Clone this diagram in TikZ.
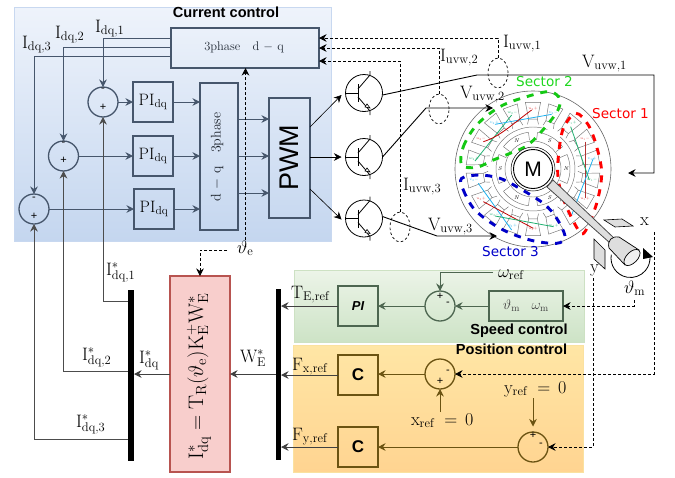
\documentclass[tikz,border=0pt]{standalone}
\usepackage{fix-cm}
\usepackage{fontspec}
\newfontfamily\hvf{Liberation Sans}
\newfontfamily\djv{DejaVu Sans}
\usetikzlibrary{arrows.meta,calc,shapes.geometric}
\definecolor{bluel}{HTML}{46566C}
\definecolor{greenl}{HTML}{4D6650}
\definecolor{brownl}{HTML}{6B5312}
\definecolor{wred}{HTML}{E04040}
\definecolor{wcy}{HTML}{20B0EE}
\definecolor{wgr}{HTML}{20B070}
\tikzset{
 box/.style={draw,rectangle,inner sep=0,outer sep=0,line width=1.4},
 sumc/.style={draw,circle,inner sep=0,outer sep=0,minimum size=30,line width=1.3},
 bar/.style={fill=black,rectangle,inner sep=0,outer sep=0,minimum width=6,minimum height=171},
 arr/.style={-{Stealth[length=7.5,width=7.5]},line width=.9},
 dtip/.style={-{Stealth[length=7.5,width=7.5]},black},
 dsh/.style={dash pattern=on 2.6pt off 2.4pt,line width=.7},
 lab/.style={anchor=base west,inner sep=0,outer sep=0,font=\fontsize{18}{20}\selectfont},
 ttl/.style={anchor=base,inner sep=0,outer sep=0,font=\hvf\bfseries\fontsize{14.6}{16}\selectfont},
 sgn/.style={inner sep=0,font=\hvf\fontsize{11}{11}\selectfont},
 sec/.style={anchor=base west,inner sep=0,font=\djv\fontsize{13.6}{15}\selectfont},
 tr/.style={draw,circle,inner sep=0,outer sep=0,minimum size=37,line width=.8},
 ell/.style={draw,ellipse,dsh,inner sep=0,outer sep=0,line width=.7},
 slot/.style={draw=black!55,line width=.45},
 wind/.style={line width=.8},
 sect/.style={line width=2.9,dash pattern=on 7pt off 7pt},
 slab/.style={inner sep=0,font=\fontsize{3.8}{4}\selectfont},
}
\begin{document}
\begin{tikzpicture}[x=1pt,y=-1pt]
\useasboundingbox (0,0) rectangle (675,477);
% panels
\node[rectangle,inner sep=0,draw={rgb,255:red,200;green,216;blue,240},minimum width=317,minimum height=234,top color={rgb,255:red,238;green,243;blue,251},bottom color={rgb,255:red,196;green,214;blue,239}] (pblue) at (172.5,124) {};
\node[rectangle,inner sep=0,draw={rgb,255:red,205;green,225;blue,195},top color={rgb,255:red,236;green,244;blue,232},bottom color={rgb,255:red,205;green,227;blue,198},minimum width=290,minimum height=72] (pgreen) at (439,306) {};
\node[rectangle,inner sep=0,draw={rgb,255:red,250;green,225;blue,160},top color={rgb,255:red,255;green,230;blue,165},bottom color={rgb,255:red,255;green,212;blue,145},minimum width=290,minimum height=127] (porange) at (438,408.5) {};
\node[ttl] (tcur) at (226,17) {Current control};
\node[ttl] (tspd) at (519,334) {Speed control};
\node[ttl] (tpos) at (511.5,354) {Position control};
% current loop
\begin{scope}[bluel]
\node[box,minimum width=148,minimum height=40] (tq) at (245,48) {};
\node[font=\fontsize{12.5}{14}\selectfont,text=bluel!50!black,inner sep=0] (tqt) at (244,47) {3phase\ \ \ d $-$ q};
\node[box,minimum width=40,minimum height=40] (pi1) at (153,102) {};
\node[box,minimum width=40,minimum height=40] (pi2) at (153,156) {};
\node[box,minimum width=40,minimum height=40] (pi3) at (154,209) {};
\node[lab,anchor=center,text=black,font=\fontsize{16.5}{18}\selectfont] (pi1t) at (153,102) {$\mathrm{PI}_{\mathrm{dq}}$};
\node[lab,anchor=center,text=black,font=\fontsize{16.5}{18}\selectfont] (pi2t) at (153,156) {$\mathrm{PI}_{\mathrm{dq}}$};
\node[lab,anchor=center,text=black,font=\fontsize{16.5}{18}\selectfont] (pi3t) at (154,209) {$\mathrm{PI}_{\mathrm{dq}}$};
\node[box,minimum width=38,minimum height=147] (dq) at (219,156.5) {};
\node[rotate=90,inner sep=0,text=bluel!40!black,font=\fontsize{14}{15}\selectfont] (dqt) at (217,157) {d $-$ q\ \ \ 3phase};
\node[box,minimum width=41,minimum height=120] (pwm) at (289.5,158) {};
\node[rotate=90,inner sep=0,text=black,font=\hvf\fontsize{27}{30}\selectfont] (pwmt) at (289,158) {PWM};
\node[sumc] (s1) at (103,102) {};
\node[sumc] (s2) at (63.5,156) {};
\node[sumc] (s3) at (34,209) {};
\draw[arr] (s1.east) -- (pi1.west);
\draw[arr] (s2.east) -- (pi2.west);
\draw[arr] (s3.east) -- (pi3.west);
\draw[arr] (pi1.east) -- (dq.west|-pi1);
\draw[arr] (pi2.east) -- (dq.west|-pi2);
\draw[arr] ([yshift=0]pi3.east) -- (dq.west|-pi3);
\draw[arr] (dq.east|-0,119) -- (pwm.west|-0,119);
\draw[arr] (dq.east|-0,156) -- (pwm.west|-0,156);
\draw[arr] (dq.east|-0,193) -- (pwm.west|-0,193);
\draw[arr] (tq.west|-0,38) -| (s1.north);
\draw[arr] (tq.west|-0,47) -| (s2.north);
\draw[arr] (tq.west|-0,56) -| (s3.north);
\end{scope}
\node[sgn] (m1) at (103,90) {-};\node[sgn] (p1) at (103,107) {+};
\node[sgn] (m2) at (63.5,144) {-};\node[sgn] (p2) at (63.5,160) {+};
\node[sgn] (m3) at (34,199) {-};\node[sgn] (p3) at (34,216) {+};
% star bus
\node[bar] (barl) at (131,375.5) {};
\node[bar,minimum width=5] (barr) at (278.5,374.5) {};
\node[box,draw={rgb,255:red,184;green,84;blue,80},fill={rgb,255:red,248;green,206;blue,204},line width=1.6,minimum width=60,minimum height=196] (red) at (200,374) {};
\node[rotate=90,inner sep=0,font=\fontsize{21}{23}\selectfont] (redt) at (199,376.5) {$\mathrm{I}^{*}_{\mathrm{dq}} = \mathrm{T}_{\mathrm{R}}(\vartheta_{\mathrm{e}})\mathrm{K}^{+}_{\mathrm{E}}\mathrm{W}^{*}_{\mathrm{E}}$};
\draw[arr,black!75] (red.west) -- (barl.east|-red);
\draw[arr,black!75] (barr.west|-red) -- (red.east);
\draw[arr,black!70,line width=.8] (barl.west|-0,301) -| (s1.south);
\draw[arr,black!70,line width=.8] (barl.west|-0,371) -| (s2.south);
\draw[arr,black!70,line width=.8] (barl.west|-0,439) -| (s3.south);
% labels current
\node[lab] (l1) at (95,32) {$\mathrm{I}_{\mathrm{dq,1}}$};
\node[lab] (l2) at (55,38) {$\mathrm{I}_{\mathrm{dq,2}}$};
\node[lab] (l3) at (22,48) {$\mathrm{I}_{\mathrm{dq,3}}$};
\node[lab] (r1) at (106,275) {$\mathrm{I}^{*}_{\mathrm{dq,1}}$};
\node[lab] (r2) at (82,360) {$\mathrm{I}^{*}_{\mathrm{dq,2}}$};
\node[lab] (r3) at (76,427) {$\mathrm{I}^{*}_{\mathrm{dq,3}}$};
\node[lab] (r0) at (139,363) {$\mathrm{I}^{*}_{\mathrm{dq}}$};
\node[lab] (we) at (240,362) {$\mathrm{W}^{*}_{\mathrm{E}}$};
\node[lab] (the) at (237,253) {$\vartheta_{\mathrm{e}}$};
\coordinate (thx) at (245.5,240);
\draw[dsh,dtip] (thx) -- (thx|-tq.south);
\draw[dsh,dtip] (227,250) -| (red.north);
% speed
\begin{scope}[greenl]
\node[box,minimum width=40,minimum height=40] (pis) at (358,306) {};
\node[inner sep=0,text=black,font=\hvf\bfseries\itshape\fontsize{13}{15}\selectfont] (pist) at (358,306) {PI};
\node[box,minimum width=74,minimum height=30] (tm) at (526,306) {};
\node[inner sep=0,text=black!75,font=\fontsize{14}{15}\selectfont] (tmt) at (526,306) {$\vartheta_{\mathrm{m}}\;\;\;\omega_{\mathrm{m}}$};
\node[sumc] (ss) at (440,306) {};
\draw[arr] (tm.west) -- (ss.east);
\draw[arr] (ss.west) -- (pis.east);
\coordinate (wr) at (493,272);
\draw[arr] (wr) -| (ss.north);
\end{scope}
\node[sgn] (sp) at (440,296) {+};\node[sgn] (sm) at (448,304) {-};
\node[lab] (wref) at (498,277) {$\omega_{\mathrm{ref}}$};
% position
\begin{scope}[brownl]
\node[box,minimum width=40,minimum height=40] (c1) at (358,375) {};
\node[box,minimum width=40,minimum height=40] (c2) at (358,447) {};
\node[inner sep=0,text=black,font=\hvf\bfseries\fontsize{17}{19}\selectfont] (c1t) at (358,375) {C};
\node[inner sep=0,text=black,font=\hvf\bfseries\fontsize{17}{19}\selectfont] (c2t) at (358,447) {C};
\node[sumc] (sx) at (440,374) {};
\node[sumc] (sy) at (533,447) {};
\draw[arr] (sx.west) -- (c1.east|-sx);
\draw[arr] (sy.west) -- (c2.east|-sy);
\coordinate (xr) at (440,412);
\coordinate (yr) at (533,398);
\draw[arr] (xr) -- (sx.south);
\draw[arr,shorten >=5.5] (yr) -- (sy.north);
\end{scope}
\node[sgn] (xm) at (448,372) {-};\node[sgn] (xp) at (440,381) {+};
\node[sgn] (yp) at (533,435) {+};\node[sgn] (ym) at (541,445) {-};
\node[lab] (xrt) at (411,425) {$\mathrm{x}_{\mathrm{ref}}\;=\,0$};
\node[lab] (yrt) at (504,393) {$\mathrm{y}_{\mathrm{ref}}\;=\,0$};
\node[lab] (te) at (291,298) {$\mathrm{T}_{\mathrm{E,ref}}$};
\node[lab] (fx) at (292,370) {$\mathrm{F}_{\mathrm{x,ref}}$};
\node[lab] (fy) at (292,440) {$\mathrm{F}_{\mathrm{y,ref}}$};
\draw[arr,black!75] (pis.west) -- (barr.east|-pis);
\draw[arr,black!75] (c1.west) -- (barr.east|-c1);
\draw[arr,black!75] (c2.west) -- (barr.east|-c2);
% motor
\begin{scope}[shift={(533,169)}]
\draw[black!60,line width=.6] (0,0) circle (78);
\foreach \a in {10,30,...,350}{
  \draw[slot,fill=white] (-\a-5:50) -- (-\a-6.5:67) -- (-\a+6.5:67) -- (-\a+5:50) -- cycle;
  \draw[slot] (-\a-5:50) -- (-\a-7:45);
  \draw[slot] (-\a+5:50) -- (-\a+7:45);
}
\foreach \a in {0,60,...,300}{
  \draw[slot] (-\a-23:37) arc (-\a-23:-\a+23:37);
  \draw[slot] (-\a-23:37) -- (-\a-23:29);
  \draw[slot] (-\a+23:37) -- (-\a+23:29);
}
\foreach \a in {0,120,240}{
  \draw[slot] (-\a-50:42) arc (-\a-50:-\a+50:42);
}
\draw[slot] (0,0) circle (28);
\foreach \a/\t/\c in {50/w_1{+}/wgr,30/u_1{-}/wred,10/v_1{+}/wcy,-10/w_1{-}/wgr,-30/u_1{+}/wred,-50/v_1{-}/wcy,-70/w_3{+}/wgr,-90/u_3{+}/wred,-110/v_3{+}/wcy,-130/w_3{-}/wgr,-150/u_3{+}/wred,-170/v_3{-}/wcy,170/w_2{+}/wgr,150/u_2{-}/wred,130/v_2{+}/wcy,110/w_2{-}/wgr,90/u_2{+}/wred,70/v_2{-}/wcy}{
  \node[slab,text=\c] at (-\a:60) {$\t$};
}
\foreach \a/\t in {120/N,60/S,0/N,-60/S,-120/N,180/S}{
  \node[inner sep=0,font=\itshape\fontsize{5.5}{6}\selectfont] at (-\a:33) {\t};
}
\end{scope}
\begin{scope}[shift={(450,90)},x=.33333pt,y=-.33333pt]
\draw[wind,wgr] (75,213) -- (185,75);
\draw[wind,wcy] (135,103) -- (305,73);
\draw[wind,red!75!black] (100,155) .. controls (150,140) and (190,100) .. (245,60);
\draw[wind,wred!80!black] (405,155) -- (405,325);
\draw[wind,wcy] (430,205) -- (365,375);
\draw[wind,wgr] (362,110) -- (418,270);
\draw[wind,wcy] (85,280) -- (185,420);
\draw[wind,red!75!black] (100,335) -- (250,415);
\draw[wind,wgr] (135,378) -- (310,410);
\draw[sect,color={rgb,255:red,20;green,200;blue,20}] plot[smooth cycle,tension=.55] coordinates {(35,225) (40,170) (80,105) (150,50) (230,20) (300,5) (330,30) (315,75) (240,160) (180,190) (130,210) (80,232)};
\draw[sect,color=red] plot[smooth cycle,tension=.55] coordinates {(378,70) (340,115) (325,200) (325,270) (345,340) (385,420) (405,425) (440,340) (455,250) (440,170) (415,105)};
\draw[sect,color={rgb,255:red,0;green,0;blue,200}] plot[smooth cycle,tension=.55] coordinates {(35,265) (40,300) (75,360) (150,415) (240,450) (320,460) (345,440) (320,385) (280,340) (200,290) (150,265) (90,255)};
\end{scope}
% M
\node[draw,circle,fill=white,line width=.5,minimum size=44,inner sep=0] (mo) at (533,169) {};
\node[draw,circle,line width=.9,minimum size=39,inner sep=0,font=\hvf\fontsize{21}{23}\selectfont] (mi) at (533,169) {M};
% shaft + cylinder
\draw[black!70,line width=.8,fill=black!13] (547,187) -- (553,180) -- (615,239) -- (610,243) -- cycle;
\draw[line width=.8] (630.5,258) ++(190:19.5) arc[start angle=190,end angle=-5,radius=19.5];
\draw[black,line width=.7,fill=black!13] (609,248) .. controls (607,240) and (612,236) .. (619,237) -- (639,250) -- (625,265) -- cycle;
\draw[black,line width=.7,fill=black!6,rotate around={45:(632,257.5)}] (632,257.5) ellipse[x radius=10,y radius=5.5];
\fill[black] (643,248) -- (653,257) -- (643,259) -- cycle;
\draw[line width=.6,fill=black!13] (604,220) -- (622,219) -- (633,226) -- (615,227) -- cycle;
\draw[line width=.6,fill=black!13] (594,239) -- (605,250) -- (605,269) -- (594,259) -- cycle;
\node[lab] (xt) at (640,225) {x};
\node[lab] (yt) at (590,272) {y};
\node[lab] (tmm) at (624,293) {$\vartheta_{\mathrm{m}}$};
% transistors
\node[tr] (t1) at (364,93) {};
\node[tr] (t2) at (364,157) {};
\node[tr] (t3) at (364,218.5) {};
\foreach \n in {t1,t2,t3}{
  \draw[line width=.8] (\n.west) -- ([xshift=-6]\n.center);
  \draw[line width=1] ([shift={(-6,-9)}]\n.center) -- ([shift={(-6,9)}]\n.center);
  \draw[line width=.8] ([shift={(-6,-4)}]\n.center) -- ([shift={(6,-18)}]\n.center) -- ([shift={(6,-22)}]\n.center);
  \draw[line width=.8] ([shift={(-6,4)}]\n.center) -- ([shift={(6,18)}]\n.center) -- ([shift={(6,22)}]\n.center);
  \draw[line width=.6,fill=white] ([shift={(3,11)}]\n.center) -- ([shift={(1,14)}]\n.center) -- ([shift={(6,15)}]\n.center) -- cycle;
}
\draw[arr,black,line width=.6] (pwm.east|-0,127) -- ([xshift=-4,yshift=-2]t1.west);
\draw[arr,black,line width=.6] (pwm.east|-0,157) -- ([xshift=-4]t2.west);
\draw[arr,black,line width=.6] (pwm.east|-0,189) -- ([xshift=-4,yshift=-1]t3.west);
% dashed sensors
\node[ell,minimum width=20,minimum height=30] (e1) at (498,73) {};
\node[ell,minimum width=20,minimum height=30] (e2) at (439,109) {};
\node[ell,minimum width=20,minimum height=30] (e3) at (400,227) {};
\draw[dsh,dtip] (e1.north) |- (tq.east|-0,38);
\draw[dsh,dtip] (e2.north) |- (tq.east|-0,48);
\draw[dsh,dtip] (e3.north) |- (tq.east|-0,61);
\node[lab] (iu1) at (503,47) {$\mathrm{I}_{\mathrm{uvw,1}}$};
\node[lab] (iu2) at (440,61) {$\mathrm{I}_{\mathrm{uvw,2}}$};
\node[lab] (iu3) at (403,190) {$\mathrm{I}_{\mathrm{uvw,3}}$};
\node[lab] (vu1) at (582,67) {$\mathrm{V}_{\mathrm{uvw,1}}$};
\node[lab] (vu2) at (460,98) {$\mathrm{V}_{\mathrm{uvw,2}}$};
\node[lab] (vu3) at (428,230) {$\mathrm{V}_{\mathrm{uvw,3}}$};
% phase lines
\coordinate (v1a) at (628,173);
\coordinate (v2a) at (493,108);
\coordinate (v3a) at (497,236);
\draw[arr,black] ([yshift=-2]t1.east) -- (477,75) -- (654,75) -- (654,173) -- (v1a);
\draw[arr,black] (t2.east) -- (426,108) -- (v2a);
\draw[arr,black] ([yshift=2]t3.east) -- (437,236) -- (v3a);
% encoder dashed
\coordinate (cm) at (634,300);
\coordinate (cx) at (654,232);
\coordinate (cy) at (593,278);
\draw[dsh,dtip] (cm) |- (tm.east);
\draw[dsh,dtip] (cx) |- (sx.east);
\draw[dsh,dtip] (cy) |- (sy.east);
% sector labels
\node[sec,text={rgb,255:red,30;green,215;blue,30}] (sc2) at (516,86) {Sector 2};
\node[sec,text=red] (sc1) at (592,118) {Sector 1};
\node[sec,text={rgb,255:red,0;green,0;blue,200}] (sc3) at (482,256) {Sector 3};
\end{tikzpicture}
\end{document}
